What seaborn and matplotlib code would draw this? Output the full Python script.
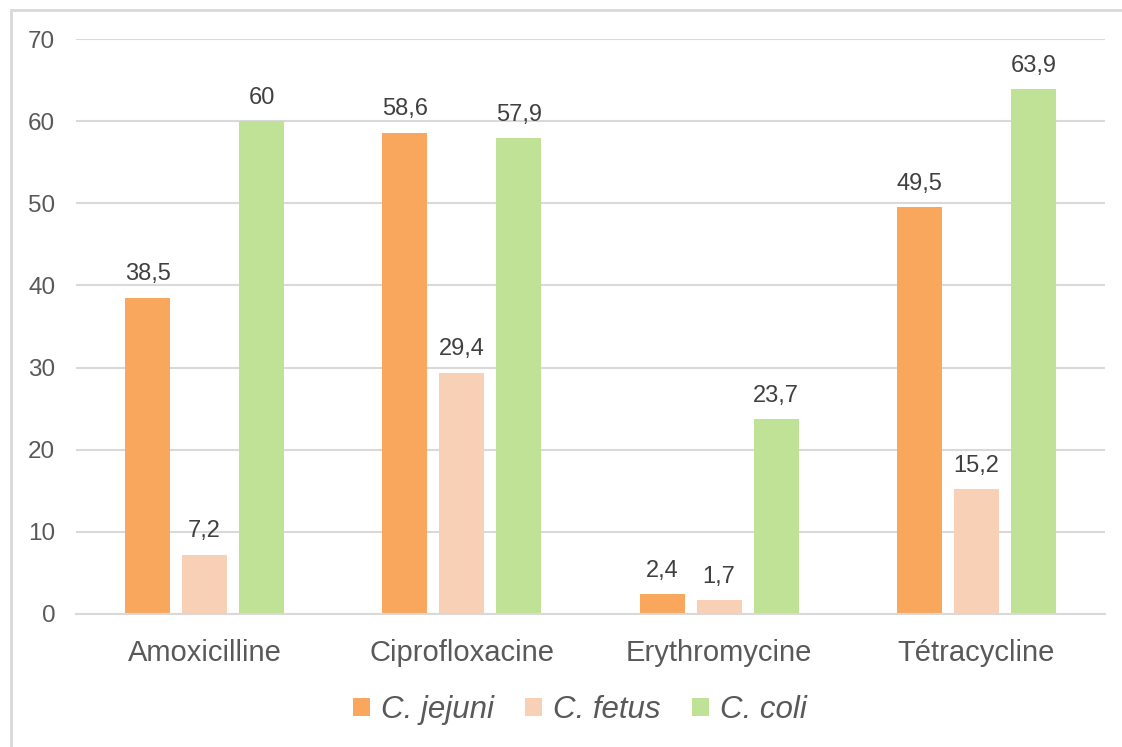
import matplotlib
matplotlib.use("Agg")
import matplotlib.pyplot as plt
from matplotlib.patches import Rectangle
import pandas as pd
import seaborn as sns

antibiotics = ["Amoxicilline", "Ciprofloxacine", "Erythromycine", "Tétracycline"]
species = ["C. jejuni", "C. fetus", "C. coli"]
jejuni = [38.5, 58.6, 2.4, 49.5]
fetus = [7.2, 29.4, 1.7, 15.2]
coli = [60, 57.9, 23.7, 63.9]
colors = ["#F9A75C", "#F8D0B5", "#C0E296"]

df = pd.DataFrame({
    "antibiotic": antibiotics * 3,
    "species": [s for s in species for _ in antibiotics],
    "value": jejuni + fetus + coli,
})

sns.set_style("white")
plt.rcParams["font.family"] = ["Liberation Sans", "DejaVu Sans"]
txt = "#595959"
grid = "#D9D9D9"

fig = plt.figure(figsize=(11.22, 7.47), dpi=100)
ax = fig.add_axes([76 / 1122, 1 - 614 / 747, (1105 - 76) / 1122, (614 - 39) / 747])

sns.barplot(data=df, x="antibiotic", y="value", hue="species",
            palette=colors, saturation=1, width=0.665, gap=0.21,
            linewidth=0, ax=ax, legend=True)

# value labels
for cont in ax.containers:
    labels = [f"{v:g}".replace(".", ",") for v in cont.datavalues]
    ax.bar_label(cont, labels=labels, padding=9, fontsize=17, color="#404040")

ax.set_ylim(0, 70)
ax.set_xlim(-0.5, 3.5)
ax.set_yticks(range(0, 71, 10))
ax.yaxis.grid(True, color=grid, linewidth=1.5)
ax.set_axisbelow(True)
ax.set_xlabel("")
ax.set_ylabel("")
for s in ["left", "right", "top"]:
    ax.spines[s].set_visible(False)
ax.spines["bottom"].set_color(grid)
ax.spines["bottom"].set_linewidth(1.5)
ax.set_xticks([-0.5, 0.5, 1.5, 2.5, 3.5], minor=True)
ax.tick_params(axis="x", which="major", length=0, labelsize=21, colors=txt, pad=18)
ax.tick_params(axis="x", which="minor", length=8, width=1.5, color=grid)
ax.tick_params(axis="y", length=0, labelsize=17.5, colors=txt, pad=15)

leg = ax.get_legend()
handles = leg.legend_handles
leg.remove()
fig.legend(handles, species, loc="center", bbox_to_anchor=(580 / 1122, 1 - 710 / 747),
           ncol=3, frameon=False, handlelength=0.55, handleheight=0.55,
           handletextpad=0.35, columnspacing=1.0,
           prop={"style": "italic", "size": 22.5}, labelcolor=txt)

fig.patches.append(Rectangle((11 / 1122, -0.05), 1.2, 1 - 10 / 747 + 0.05,
                             transform=fig.transFigure, fill=False,
                             edgecolor=grid, linewidth=2))

fig.savefig("out.png", dpi=100)
